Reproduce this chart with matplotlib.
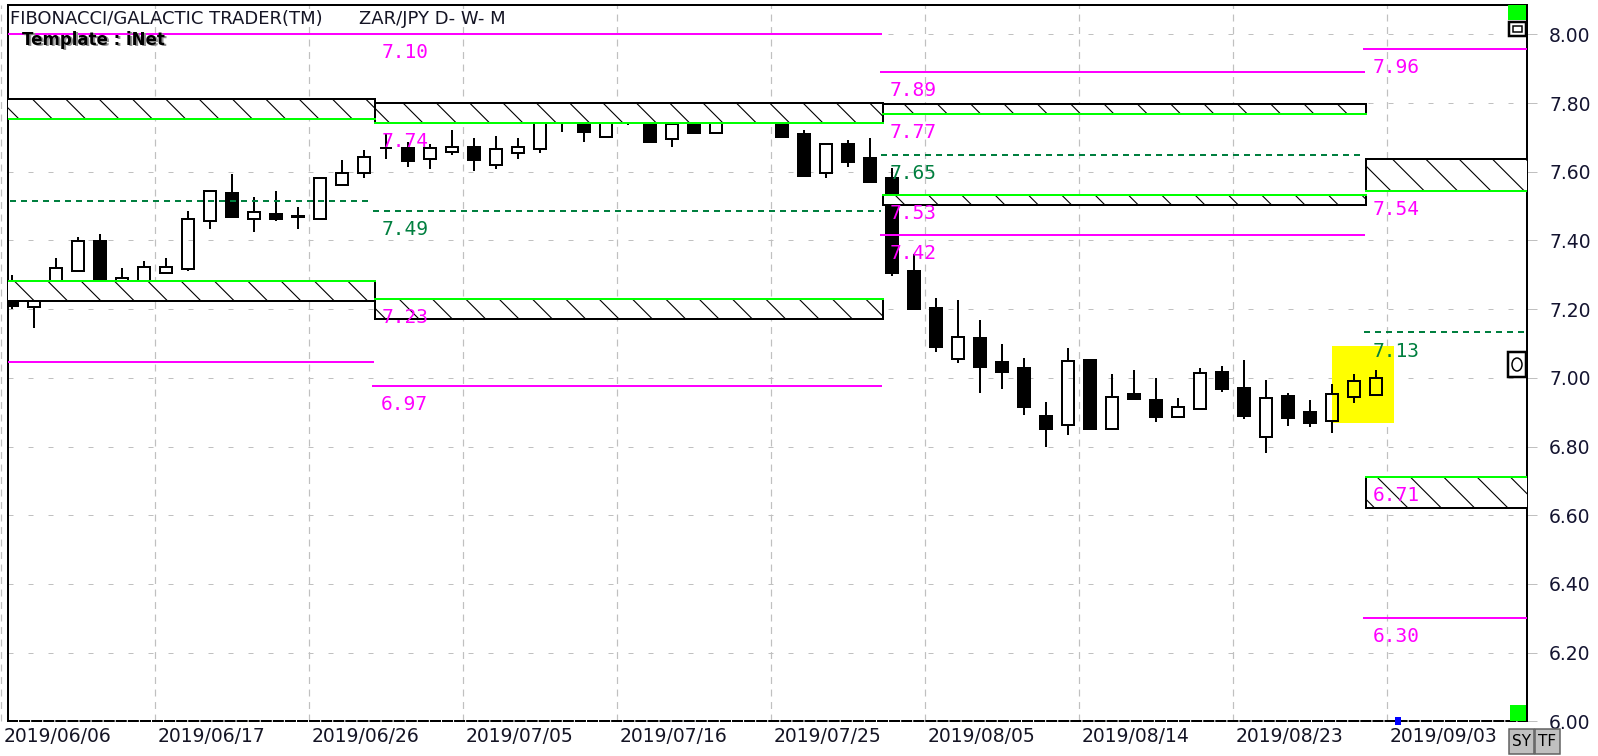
import matplotlib
matplotlib.use("Agg")
import matplotlib.pyplot as plt
from matplotlib.patches import Rectangle, Ellipse
import numpy as np

W, H = 1598, 756
plt.rcParams['lines.scale_dashes'] = False
plt.rcParams['hatch.linewidth'] = 0.8
plt.rcParams['font.family'] = ['DejaVu Sans']

# x labels, one every 7 bars (bar index 0 = 2019/06/06)
date_labels = ["2019/06/06", "2019/06/17", "2019/06/26", "2019/07/05", "2019/07/16",
               "2019/07/25", "2019/08/05", "2019/08/14", "2019/08/23", "2019/09/03"]

# daily OHLC, ZAR/JPY
opens = [7.280, 7.207, 7.270, 7.312, 7.399, 7.278, 7.282, 7.304, 7.317, 7.456,
         7.539, 7.462, 7.476, 7.468, 7.461, 7.561, 7.595, 7.668, 7.668, 7.636,
         7.658, 7.673, 7.620, 7.655, 7.665, 7.741, 7.770, 7.700, 7.755, 7.758,
         7.694, 7.749, 7.714, 7.785, 7.760, 7.780, 7.709, 7.595, 7.680, 7.639,
         7.581, 7.312, 7.202, 7.055, 7.115, 7.045, 7.028, 6.889, 6.863, 7.052,
         6.850, 6.953, 6.935, 6.887, 6.909, 7.016, 6.969, 6.827, 6.947, 6.900,
         6.874, 6.945, 6.950]
highs = [7.300, 7.250, 7.348, 7.411, 7.418, 7.319, 7.341, 7.348, 7.486, 7.547,
         7.593, 7.527, 7.545, 7.498, 7.585, 7.634, 7.663, 7.712, 7.687, 7.680,
         7.721, 7.697, 7.704, 7.697, 7.760, 7.800, 7.789, 7.780, 7.780, 7.795,
         7.765, 7.760, 7.780, 7.790, 7.790, 7.790, 7.720, 7.680, 7.692, 7.697,
         7.610, 7.360, 7.231, 7.226, 7.168, 7.098, 7.057, 6.929, 7.086, 7.052,
         7.011, 7.023, 6.999, 6.940, 7.028, 7.034, 7.052, 6.994, 6.957, 6.935,
         6.982, 7.011, 7.023]
lows = [7.200, 7.146, 7.246, 7.310, 7.277, 7.258, 7.270, 7.304, 7.311, 7.432,
        7.467, 7.425, 7.456, 7.432, 7.458, 7.561, 7.583, 7.636, 7.613, 7.607,
        7.649, 7.602, 7.607, 7.636, 7.655, 7.716, 7.687, 7.700, 7.735, 7.687,
        7.673, 7.712, 7.714, 7.755, 7.750, 7.700, 7.588, 7.583, 7.613, 7.566,
        7.297, 7.199, 7.076, 7.042, 6.955, 6.967, 6.892, 6.800, 6.833, 6.850,
        6.850, 6.937, 6.872, 6.887, 6.909, 6.960, 6.879, 6.780, 6.861, 6.856,
        6.838, 6.926, 6.950]
closes = [7.210, 7.229, 7.319, 7.399, 7.282, 7.290, 7.323, 7.323, 7.462, 7.545,
          7.467, 7.482, 7.461, 7.470, 7.581, 7.597, 7.644, 7.670, 7.631, 7.668,
          7.673, 7.634, 7.666, 7.673, 7.743, 7.752, 7.716, 7.746, 7.741, 7.687,
          7.739, 7.714, 7.749, 7.760, 7.775, 7.700, 7.588, 7.680, 7.629, 7.571,
          7.304, 7.199, 7.089, 7.120, 7.031, 7.018, 6.914, 6.850, 7.050, 6.850,
          6.944, 6.937, 6.885, 6.916, 7.015, 6.967, 6.890, 6.940, 6.884, 6.868,
          6.952, 6.992, 6.998]

# projection segments (bar boundaries) and their levels
seg_start = [-1.0, 16.5, 39.6, 61.55]
seg_end = [16.5, 39.6, 61.55, 70.0]
mag_top = [8.000, 8.000, 7.889, 7.957]
box_hi_top = [7.812, 7.801, 7.797, 7.638]
box_hi_edge = [7.754, 7.743, 7.767, 7.545]
dash_lvl = [7.515, 7.486, 7.650, 7.132]
box_lo_edge = [7.282, 7.229, 7.532, 6.712]
box_lo_bot = [7.223, 7.171, 7.504, 6.620]
mag_bot = [7.046, 6.975, 7.417, 6.302]
seg_texts = [None,
             ["7.10", "7.74", "7.49", "7.23", "6.97"],
             ["7.89", "7.77", "7.65", "7.53", "7.42"],
             ["7.96", "7.54", "7.13", "6.71", "6.30"]]

# yellow highlight of the last bars
hl_x0, hl_x1, hl_lo, hl_hi = 60.0, 62.8, 6.868, 7.092

MAG = '#ff00ff'
LIME = '#00ff00'
DGREEN = '#007f3f'
PX = 0.72  # one pixel in points

fig = plt.figure(figsize=(W / 100, H / 100), dpi=100)
ax = fig.add_axes([8 / W, 1 - 721.3 / H, (1527 - 8) / W, (721.3 - 5) / H])
ax.set_xlim((8 - 12) / 22, (1527 - 12) / 22)
ax.set_ylim(6.0, 8.0853)

for s in ['top', 'left', 'right', 'bottom']:
    ax.spines[s].set_linewidth(2 * PX)
    ax.spines[s].set_color('black')
ax.spines['bottom'].set_linestyle((0, (6.5, 2.2)))

# grid
yt = np.round(np.arange(6.0, 8.001, 0.2), 2)
for v in yt:
    ax.axhline(v, color='#c0c0c0', lw=1 * PX, dashes=(3.6, 10.8), zorder=0.5)
grid_x = [-0.5 + 7 * k for k in range(len(date_labels))]
for g in grid_x:
    ax.axvline(g, color='#c0c0c0', lw=1.2 * PX, dashes=(5, 4), zorder=0.5, clip_on=False)

ax.set_yticks(yt)
ax.set_yticklabels(["%.2f" % v for v in yt])
ax.yaxis.tick_right()
ax.tick_params(axis='y', length=7.5, width=1 * PX, color='#c0c0c0', labelcolor='#141430',
               labelsize=13.5, pad=8.5)
ax.set_xticks([])
for g, lab in zip(grid_x, date_labels):
    ax.text(g + 0.1, -0.021, lab, transform=ax.get_xaxis_transform(), ha='left', va='center',
            fontsize=13.5, color='#141424', clip_on=False)

# highlight
ax.add_patch(Rectangle((hl_x0, hl_lo), hl_x1 - hl_x0, hl_hi - hl_lo, facecolor='#ffff00',
                       edgecolor='none', zorder=1.5))

# candles
bw = 0.52
for i in range(len(opens)):
    o, h, l, c = opens[i], highs[i], lows[i], closes[i]
    top, bot = max(o, c), min(o, c)
    ax.plot([i, i], [top, h], color='black', lw=2 * PX, solid_capstyle='butt', zorder=2)
    ax.plot([i, i], [l, bot], color='black', lw=2 * PX, solid_capstyle='butt', zorder=2)
    fc = 'black' if c < o else 'none'
    ax.add_patch(Rectangle((i - bw / 2, bot), bw, max(top - bot, 0.002), facecolor=fc,
                           edgecolor='black', lw=2 * PX, zorder=2.1))

# levels
for s in range(len(seg_start)):
    x0, x1 = seg_start[s], seg_end[s]
    lx0 = x0 - 0.1 if s > 0 else x0
    lx1 = x1 - 0.1
    for y in (mag_top[s], mag_bot[s]):
        ax.plot([lx0, lx1], [y, y], color=MAG, lw=2 * PX, zorder=4, antialiased=False)
    ax.plot([lx0, lx1], [dash_lvl[s]] * 2, color=DGREEN, lw=1.6 * PX, dashes=(4.3, 3.6),
            zorder=4, antialiased=False)
    ax.add_patch(Rectangle((x0, box_hi_edge[s]), x1 - x0, box_hi_top[s] - box_hi_edge[s],
                           facecolor='white', edgecolor='black', hatch='\\', lw=2 * PX, zorder=3))
    ax.add_patch(Rectangle((x0, box_lo_bot[s]), x1 - x0, box_lo_edge[s] - box_lo_bot[s],
                           facecolor='white', edgecolor='black', hatch='\\', lw=2 * PX, zorder=3))
    ax.plot([x0, x1], [box_hi_edge[s]] * 2, color=LIME, lw=2 * PX, zorder=4, antialiased=False)
    ax.plot([x0, x1], [box_lo_edge[s]] * 2, color=LIME, lw=2 * PX, zorder=4, antialiased=False)
    if seg_texts[s]:
        lv = [mag_top[s], box_hi_edge[s], dash_lvl[s], box_lo_edge[s], mag_bot[s]]
        cols = [MAG, MAG, DGREEN, MAG, MAG]
        for t, y, col in zip(seg_texts[s], lv, cols):
            ax.text(x0 + 0.28, y - 0.054, t, color=col, fontfamily='DejaVu Sans Mono',
                    fontsize=14, ha='left', va='center', zorder=5)

# blue marker of next bar
ax.add_patch(Rectangle((len(opens) - 0.12, 5.988), 0.24, 0.024, facecolor='#0000ff',
                       edgecolor='none', clip_on=False, zorder=6))


def px_rect(x0, y0, x1, y1, **kw):
    r = Rectangle((x0 / W, 1 - y1 / H), (x1 - x0) / W, (y1 - y0) / H,
                  transform=fig.transFigure, **kw)
    fig.patches.append(r)
    return r


# right-side icons
px_rect(1508, 5, 1526, 20, facecolor=LIME, edgecolor='none')
px_rect(1509, 22, 1526, 36, facecolor='white', edgecolor='black', lw=2.5 * PX)
px_rect(1513, 26, 1522, 32, facecolor='white', edgecolor='black', lw=1.5 * PX)
px_rect(1508, 352, 1526, 377, facecolor='white', edgecolor='black', lw=2.5 * PX)
fig.patches.append(Ellipse((1517 / W, 1 - 364.5 / H), 10 / W, 13 / H, transform=fig.transFigure,
                           facecolor='none', edgecolor='black', lw=1.5 * PX))
px_rect(1510, 705, 1526, 721, facecolor=LIME, edgecolor='none')
for bx, t in ((1509, "SY"), (1535, "TF")):
    px_rect(bx, 729, bx + 25, 754, facecolor='#c0c0c0', edgecolor='#606060', lw=1.5 * PX)
    fig.text((bx + 12.5) / W, 1 - 741.5 / H, t, ha='center', va='center', fontsize=11,
             color='black')

# header text
fig.text(10 / W, 1 - 19 / H, "FIBONACCI/GALACTIC TRADER(TM)", fontsize=13, va='center',
         color='#141424')
fig.text(359 / W, 1 - 19 / H, "ZAR/JPY D- W- M", fontsize=13, va='center', color='#141424')
fig.text(23.5 / W, 1 - 41.5 / H, "Template : iNet", fontsize=12, fontweight='bold',
         va='center', color='#909090')
fig.text(22 / W, 1 - 40 / H, "Template : iNet", fontsize=12, fontweight='bold',
         va='center', color='black')

fig.savefig("out.png", dpi=100, facecolor='white')
